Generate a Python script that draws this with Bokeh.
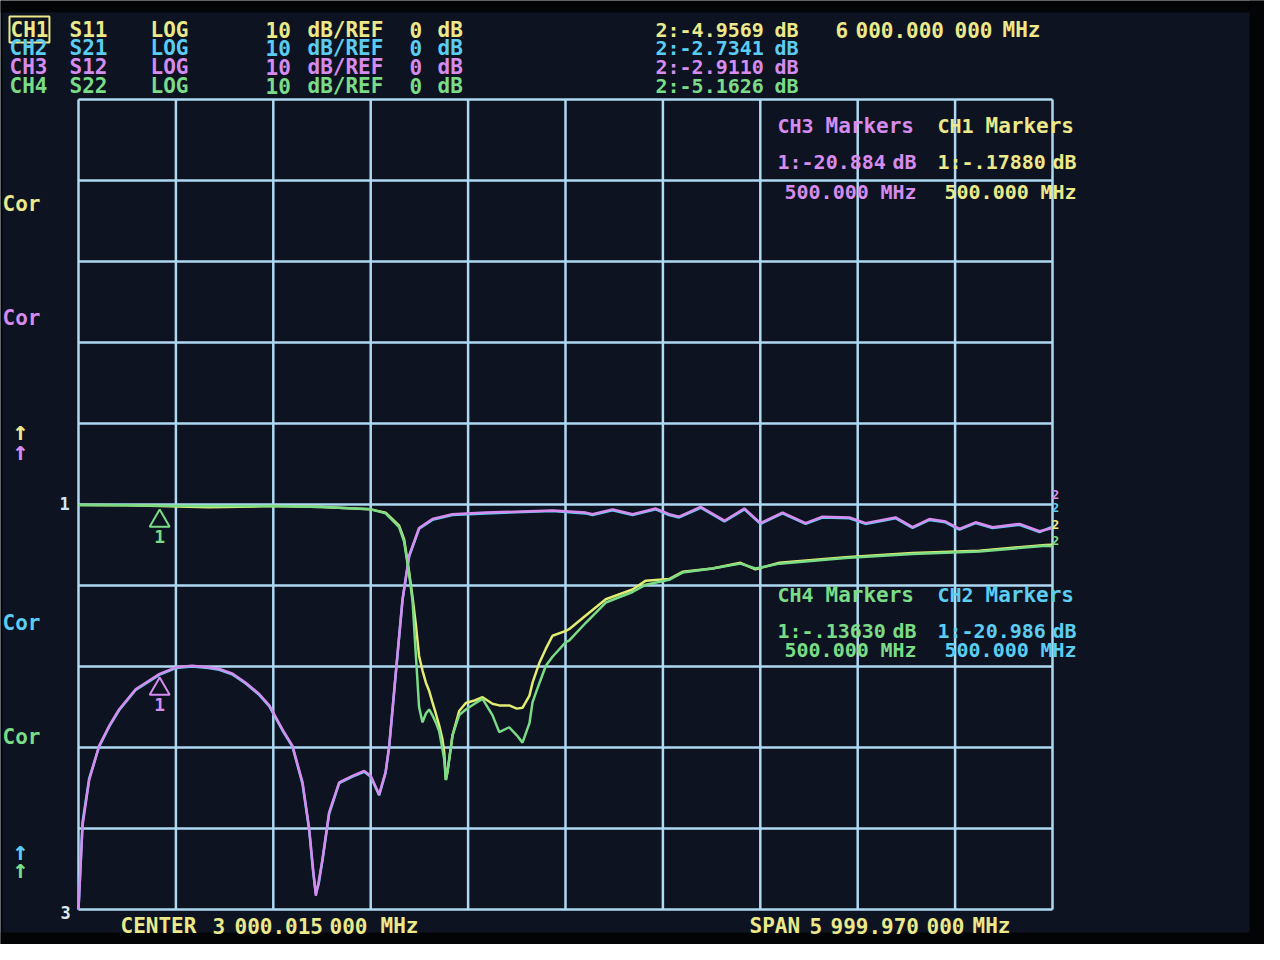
from bokeh.plotting import figure
from bokeh.models import Range1d, Label, BoxAnnotation
from bokeh.core.properties import value
from bokeh.embed import file_html
from bokeh.resources import INLINE

# ## NanoVNA style screen: 4 channels, LOG 10 dB/div, ref 0 dB

# sweep in MHz, 600 MHz / div ; 10 dB / div
x_ticks = [0, 600, 1200, 1800, 2400, 3000, 3600, 4200, 4800, 5400, 6000]
y_ticks = [-50, -40, -30, -20, -10, 0, 10, 20, 30, 40, 50]

# transmission (S21 / S12)
f_trans = [0, 25, 66, 127, 190, 250, 352, 500, 600, 700,
           800, 867, 950, 1030, 1113, 1175, 1257, 1318, 1380, 1421,
           1445, 1462, 1480, 1503, 1544, 1606, 1688, 1760, 1800, 1852,
           1892, 1914, 1955, 1996, 2037, 2098, 2180, 2304, 2507, 2920,
           3125, 3166, 3290, 3413, 3556, 3638, 3700, 3833, 3979, 4102,
           4201, 4337, 4479, 4583, 4749, 4848, 5033, 5138, 5242, 5341,
           5427, 5526, 5631, 5797, 5920, 6000]
s21_db = [-50.0, -39.2, -33.8, -29.9, -27.4, -25.4, -22.9, -21.0, -20.2, -20.0,
          -20.2, -20.4, -21.0, -22.1, -23.5, -24.9, -27.9, -29.9, -34.5, -40.2,
          -45.3, -48.0, -46.8, -43.9, -38.2, -34.4, -33.6, -33.0, -33.6, -35.9,
          -33.1, -29.9, -20.8, -11.8, -6.4, -3.0, -1.9, -1.3, -1.1, -0.8,
          -1.1, -1.3, -0.7, -1.3, -0.6, -1.3, -1.6, -0.4, -2.1, -0.6,
          -2.4, -1.1, -2.4, -1.6, -1.7, -2.4, -1.7, -2.9, -1.9, -2.2,
          -3.1, -2.3, -2.9, -2.5, -3.4, -2.73]
s12_db = [-50.0, -39.6, -34.0, -29.8, -27.3, -25.3, -22.8, -20.9, -20.1, -19.9,
          -20.1, -20.3, -20.9, -22.0, -23.4, -24.8, -27.8, -29.8, -34.3, -40.0,
          -45.0, -48.3, -46.5, -43.8, -38.0, -34.3, -33.5, -32.9, -33.5, -35.8,
          -33.0, -29.8, -20.7, -11.7, -6.3, -2.9, -1.8, -1.2, -1.0, -0.75,
          -1.0, -1.2, -0.6, -1.2, -0.5, -1.2, -1.5, -0.3, -2.0, -0.5,
          -2.3, -1.0, -2.3, -1.5, -1.6, -2.3, -1.6, -2.8, -1.8, -2.1,
          -3.0, -2.2, -2.8, -2.4, -3.3, -2.91]

# reflection (S11 / S22)
f_refl = [0, 300, 500, 800, 1200, 1500, 1700, 1800,
          1892, 1975, 2006, 2037, 2058, 2078, 2098, 2119, 2140, 2160,
          2180, 2201, 2222, 2242, 2253, 2263, 2273, 2304, 2345, 2386,
          2440, 2489, 2550, 2592, 2653, 2700, 2735, 2778, 2797, 2840,
          2879, 2920, 3002, 3022, 3125, 3248, 3413, 3495, 3638, 3721,
          3905, 4078, 4170, 4318, 4725, 5138, 5550, 5957, 6000]
s11_db = [-0.05, -0.1, -0.18, -0.35, -0.2, -0.3, -0.5, -0.6,
          -1.0, -2.6, -4.3, -8.4, -11.5, -14.8, -18.7, -20.5, -22.0, -23.0,
          -24.4, -25.8, -27.3, -29.0, -30.6, -34.0, -33.0, -28.5, -25.5, -24.5,
          -24.2, -23.8, -24.6, -24.8, -24.8, -25.2, -25.1, -23.6, -22.0, -19.5,
          -17.8, -16.2, -15.6, -15.4, -13.7, -11.7, -10.5, -9.4, -9.2, -8.3,
          -7.9, -7.2, -8.0, -7.2, -6.5, -6.0, -5.7, -5.0, -4.96]
s22_db = [-0.05, -0.1, -0.14, -0.2, -0.2, -0.3, -0.5, -0.6,
          -1.1, -2.8, -4.6, -8.6, -12.0, -18.5, -25.0, -26.9, -25.8, -25.3,
          -26.0, -26.9, -28.0, -30.2, -31.5, -34.0, -33.0, -28.5, -26.0, -25.3,
          -24.6, -24.0, -26.0, -28.1, -27.5, -28.5, -29.4, -27.0, -24.4, -22.0,
          -19.9, -18.8, -17.0, -16.8, -14.6, -12.1, -10.8, -9.9, -9.3, -8.4,
          -7.9, -7.3, -7.9, -7.3, -6.6, -6.1, -5.8, -5.1, -5.16]

# marker readouts
marker1_mhz = 500
marker1_db = {"S11": -0.17880, "S21": -20.986, "S12": -20.884, "S22": -0.13630}
marker2_mhz = 6000
marker2_db = {"S11": -4.9569, "S21": -2.7341, "S12": -2.9110, "S22": -5.1626}

YEL = "#ece98a"
CYN = "#5ccdf2"
PUR = "#d68cee"
GRN = "#7adc86"
GRID = "#aed9f2"


# the screen: grid spans px 86..1060 (x) and 107..917 (y) of the display photo
def px_x(px):
    return (px - 86) * 6000 / 974


def px_y(py):
    return (512 - py) * 100 / 810


# whole canvas is the plot frame so texts around the grid are not clipped
p = figure(width=1264, height=944,
           x_range=Range1d(px_x(8), px_x(1272)), y_range=Range1d(px_y(952), px_y(8)),
           x_axis_location=None, y_axis_location=None, toolbar_location=None,
           output_backend="svg", min_border=0,
           background_fill_color="#0d1320", border_fill_color="#0d1320",
           outline_line_color=None)
p.grid.visible = False

# bezel of the instrument
for kw in [dict(bottom=px_y(20)), dict(top=px_y(940)), dict(right=px_x(10)), dict(left=px_x(1257))]:
    p.add_layout(BoxAnnotation(fill_color="#030405", fill_alpha=1, line_color=None, **kw))

# graticule
n = len(x_ticks)
p.segment(x0=x_ticks, y0=[y_ticks[0]] * n, x1=x_ticks, y1=[y_ticks[-1]] * n,
          line_color=GRID, line_width=2.5)
m = len(y_ticks)
p.segment(x0=[x_ticks[0]] * m, y0=y_ticks, x1=[x_ticks[-1]] * m, y1=y_ticks,
          line_color=GRID, line_width=2.5)

# traces, CH1..CH4 (later channels on top)
p.line(f_refl, s11_db, line_color="#e2ec70", line_width=2.5)
p.line(f_trans, s21_db, line_color=CYN, line_width=2.5)
p.line(f_trans, s12_db, line_color=PUR, line_width=2.5)
p.line(f_refl, s22_db, line_color=GRN, line_width=2.5)

# marker 1 triangles
for key, col in [("S12", PUR), ("S22", GRN)]:
    p.scatter([marker1_mhz], [marker1_db[key] - 1.9], marker="triangle", size=20,
              fill_alpha=0, line_color=col, line_width=2)
    p.text([marker1_mhz], [marker1_db[key]], text=["1"], y_offset=31,
           text_color=col, text_font=value("DejaVu Sans Mono"), text_font_size="18px",
           text_font_style="bold", text_align="center", text_baseline="middle")


def label(text, px, py, color, size=21, align="left", **kw):
    # px, py are screen positions of the original display
    p.add_layout(Label(x=px_x(px), y=px_y(py), text=text,
                       text_color=color, text_font="DejaVu Sans Mono", text_font_style="bold",
                       text_font_size=f"{size}px", text_align=align, text_baseline="middle", **kw))


def fmt(v):
    if abs(v) < 1:
        return f"{v:.5f}".replace("0.", ".", 1)
    return f"{v:.3f}"


# header rows
rows = [("CH1", "S11", YEL, 37), ("CH2", "S21", CYN, 55), ("CH3", "S12", PUR, 74), ("CH4", "S22", GRN, 93)]
for ch, s, col, y in rows:
    if ch == "CH1":
        label(ch, 17, y, col, border_line_color=col, border_line_width=2, padding=1)
    else:
        label(ch, 17, y, col)
    label(s, 77, y, col)
    label("LOG", 158, y, col)
    label("10", 273, y, col)
    label("dB/REF", 315, y, col)
    label("0", 417, y, col)
    label("dB", 445, y, col)
    label(f"2:{marker2_db[s]:.4f}", 663, y, col, size=20)
    label("dB", 782, y, col, size=20)

label("6", 843, 37, YEL)
label("000.000", 863, 37, YEL)
label("000", 962, 37, YEL)
label("MHz", 1010, 37, YEL)

# marker boxes
blocks = [("CH3", "S12", PUR, 785, 133, 169, 199), ("CH1", "S11", YEL, 945, 133, 169, 199),
          ("CH4", "S22", GRN, 785, 602, 638, 657), ("CH2", "S21", CYN, 945, 602, 638, 657)]
for ch, s, col, x0, y1, y2, y3 in blocks:
    label(ch, x0, y1, col, size=20)
    label("Markers", x0 + 48, y1, col)
    label(f"1:{fmt(marker1_db[s])}", x0, y2, col, size=20)
    label("dB", x0 + 115, y2, col, size=20)
    label(f"{marker1_mhz:.3f}", x0 + 7, y3, col, size=20)
    label("MHz", x0 + 103, y3, col, size=20)

# bottom line
for t, x in [("CENTER", 128), ("3", 220), ("000.015", 242), ("000", 337), ("MHz", 388),
             ("SPAN", 757), ("5", 817), ("999.970", 838), ("000", 934), ("MHz", 980)]:
    label(t, x, 933, YEL)

# left status column
for y, col in [(211, YEL), (325, PUR), (630, CYN), (744, GRN)]:
    label("Cor", 10, y, col, size=21)
for y, col in [(438, YEL), (458, PUR), (858, CYN), (876, GRN)]:
    label("\u2191", 28, y, col, size=26, align="center")
label("1", 72, 511, "#cfe8f8", size=17, align="center")
label("3", 73, 920, "#dde8f0", size=17, align="center")

# marker 2 tags at the right edge
for y, col in [(502, PUR), (515, CYN), (532, YEL), (548, GRN)]:
    label("2", 1063, y, col, size=13, align="center")

open("out.html", "w").write(file_html(p, INLINE))
